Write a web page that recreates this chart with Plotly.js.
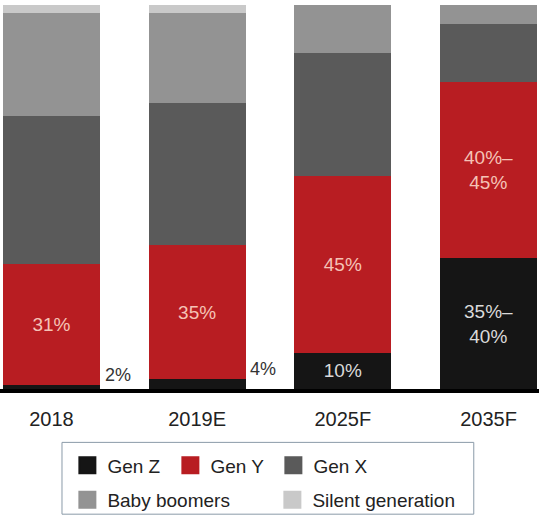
<!DOCTYPE html>
<html>
<head>
<meta charset="utf-8">
<script src="https://cdn.plot.ly/plotly-3.0.1.min.js"></script>
<style>html,body{margin:0;padding:0;background:#fff;}#chart{width:539px;height:519px;}</style>
</head>
<body>
<div id="chart"></div>
<script>
const years = ['2018', '2019E', '2025F', '2035F'];
const genZ = [1, 2.5, 9.5, 34];
const genY = [31.5, 35, 46, 46];
const genX = [38.5, 37, 32, 15];
const babyBoomers = [27, 23.5, 12.5, 5];
const silentGen = [2, 2, 0, 0];
const genZLabels = ['', '', '10%', '35%–<br>40%'];
const genYLabels = ['31%', '35%', '45%', '40%–<br>45%'];
const outsideLabels = [{cat: '2018', text: '2%'}, {cat: '2019E', text: '4%'}];

const FONT = 'Liberation Sans, Arial, sans-serif';
const series = [
  {name: 'Gen Z', vals: genZ, color: '#151515', labels: genZLabels, labelColor: '#dadada', legend: 'legend'},
  {name: 'Gen Y', vals: genY, color: '#b81d22', labels: genYLabels, labelColor: '#f5c3b6', legend: 'legend'},
  {name: 'Gen X', vals: genX, color: '#5a5a5a', labels: null, legend: 'legend'},
  {name: 'Baby boomers', vals: babyBoomers, color: '#939393', labels: null, legend: 'legend2'},
  {name: 'Silent generation', vals: silentGen, color: '#c9c9c9', labels: null, legend: 'legend2'}
];
const data = [];
series.forEach(s => {
  const t = {
    type: 'bar', name: s.name, x: years, y: s.vals,
    marker: {color: s.color, line: {width: 0}},
    showlegend: false, hoverinfo: 'skip'
  };
  if (s.labels) {
    t.text = s.labels;
    t.textposition = 'inside';
    t.insidetextanchor = 'middle';
    t.textangle = 0;
    t.constraintext = 'none';
    t.textfont = {family: FONT, size: 19, color: s.labelColor};
  } else {
    t.textposition = 'none';
  }
  data.push(t);
});
// legend entries only (null values draw nothing): square swatches
series.forEach(s => {
  data.push({
    type: 'scatter', mode: 'markers', name: s.name, x: [null], y: [null],
    marker: {symbol: 'square', size: 16, color: s.color, line: {width: 2, color: s.color}},
    legend: s.legend, showlegend: true, hoverinfo: 'skip'
  });
});
const annotations = outsideLabels.map(o => {
  const i = years.indexOf(o.cat);
  return {
    x: i, y: genZ[i], xref: 'x', yref: 'y', text: o.text, showarrow: false,
    xanchor: 'left', yanchor: 'bottom', xshift: 51, yshift: -2,
    font: {family: FONT, size: 18, color: '#333'}
  };
});
const layout = {
  width: 539, height: 519,
  margin: {l: 0, r: 0, t: 5, b: 127},
  paper_bgcolor: '#fff', plot_bgcolor: '#fff',
  barmode: 'stack', bargap: 0.334,
  font: {family: FONT, color: '#222'},
  xaxis: {
    type: 'category', range: [-0.3535, 3.3465], fixedrange: true,
    showline: true, linecolor: '#000', linewidth: 4, ticks: '',
    ticklabelstandoff: 9,
    tickfont: {family: FONT, size: 20, color: '#222'}, showgrid: false, zeroline: false
  },
  yaxis: {range: [0, 100], visible: false, showgrid: false, zeroline: false},
  showlegend: true,
  legend: {
    orientation: 'h', x: 0.125, xanchor: 'left', y: -0.199, yanchor: 'middle',
    entrywidth: 58, traceorder: 'normal', borderwidth: 0, bgcolor: 'rgba(0,0,0,0)',
    itemsizing: 'trace',
    font: {family: FONT, size: 19, color: '#222'}
  },
  legend2: {
    orientation: 'h', x: 0.125, xanchor: 'left', y: -0.29, yanchor: 'middle',
    entrywidth: 160, traceorder: 'normal', borderwidth: 0, bgcolor: 'rgba(0,0,0,0)',
    itemsizing: 'trace',
    font: {family: FONT, size: 19, color: '#222'}
  },
  shapes: [{
    type: 'rect', xref: 'paper', yref: 'paper',
    x0: 0.115, x1: 0.879, y0: -0.326, y1: -0.139,
    line: {color: '#8a9aa8', width: 1}, fillcolor: 'rgba(0,0,0,0)'
  }],
  annotations: annotations
};
Plotly.newPlot('chart', data, layout, {displayModeBar: false, staticPlot: true});
</script>
</body>
</html>
